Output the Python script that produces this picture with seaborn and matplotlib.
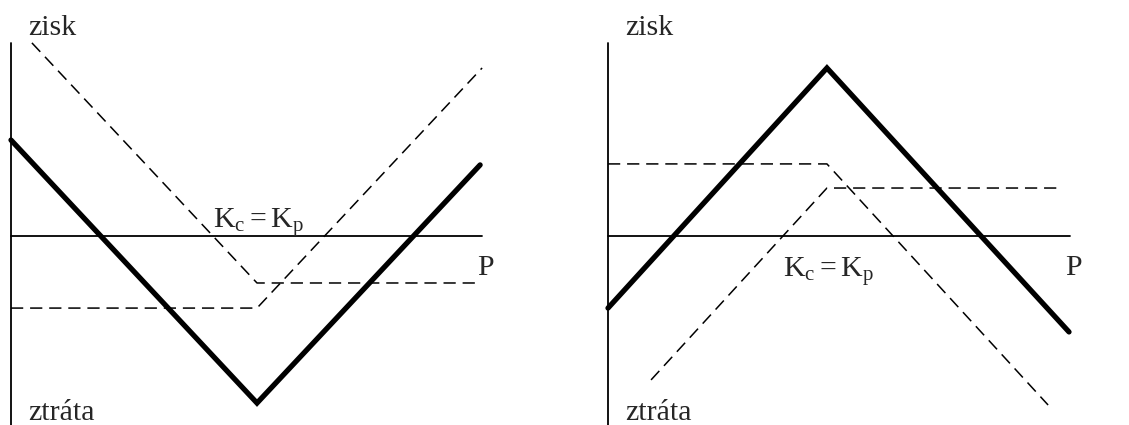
import numpy as np
import pandas as pd
import seaborn as sns
import matplotlib.pyplot as plt

# Levy graf (long straddle) - souradnice v jednotkach (P, zisk)
l_tlusta_x = [0.0, 10.0, 19.07]
l_tlusta_y = [3.9, -6.79, 2.89]
l_put_x = [0.85, 10.0, 18.94]
l_put_y = [7.85, -1.91, -1.91]
l_call_x = [0.0, 10.0, 19.15]
l_call_y = [-2.93, -2.93, 6.83]

# Pravy graf (short straddle)
p_tlusta_x = [0.0, 8.9, 18.74]
p_tlusta_y = [-2.93, 6.83, -3.9]
p_put_x = [0.0, 8.9, 17.89]
p_put_y = [2.93, 2.93, -6.87]
p_call_x = [1.75, 8.9, 18.5]
p_call_y = [-5.85, 1.95, 1.95]

osa_y = [7.85, -7.68]
osa_x_konec = [19.15, 18.78]

sns.set_style("white")
plt.rcParams['font.family'] = ['Liberation Serif', 'DejaVu Serif']
plt.rcParams['mathtext.fontset'] = 'custom'
plt.rcParams['mathtext.rm'] = 'Liberation Serif'
plt.rcParams['mathtext.it'] = 'Liberation Serif'

fig = plt.figure(figsize=(11.29, 4.25), dpi=100)
s = 24.6  # px na jednotku

def panel(x0_px, px_left, px_right, tlusta, put, call, xend, kc_pos):
    ax = fig.add_axes([px_left / 1129, 0, (px_right - px_left) / 1129, 1])
    ax.set_xlim((px_left - x0_px) / s, (px_right - x0_px) / s)
    ax.set_ylim(-189 / s, 236 / s)
    ax.axis('off')
    # osy
    ax.plot([0, 0], osa_y, color='black', lw=1.3)
    ax.plot([0, xend], [0, 0], color='black', lw=1.3)
    d = pd.DataFrame({'x': tlusta[0], 'y': tlusta[1]})
    sns.lineplot(data=d, x='x', y='y', sort=False, color='black', lw=3.8, ax=ax,
                 solid_joinstyle='miter')
    for xs, ys in (put, call):
        d = pd.DataFrame({'x': xs, 'y': ys})
        sns.lineplot(data=d, x='x', y='y', sort=False, color='black', lw=1.1,
                     ax=ax, dashes=False, linestyle=(0, (8, 4.5)),
                     dash_capstyle='butt')
    ax.text(0.69, 8.17, 'zisk', fontsize=21.5, va='baseline', ha='left')
    ax.text(0.69, -7.48, 'ztráta', fontsize=21.5, va='baseline', ha='left')
    ax.text(xend - 0.2, -1.59, 'P', fontsize=21.5, va='baseline', ha='left')
    ax.text(kc_pos[0], kc_pos[1], r'$\mathrm{K_c = K_p}$', fontsize=21.5,
            va='baseline', ha='left')
    ax.set_xlabel('')
    ax.set_ylabel('')
    return ax

panel(11, 0, 560, (l_tlusta_x, l_tlusta_y), (l_put_x, l_put_y),
      (l_call_x, l_call_y), osa_x_konec[0], (8.21, 0.33))
panel(608, 560, 1129, (p_tlusta_x, p_tlusta_y), (p_put_x, p_put_y),
      (p_call_x, p_call_y), osa_x_konec[1], (7.11, -1.67))

fig.savefig('out.png', dpi=100, facecolor='white')
